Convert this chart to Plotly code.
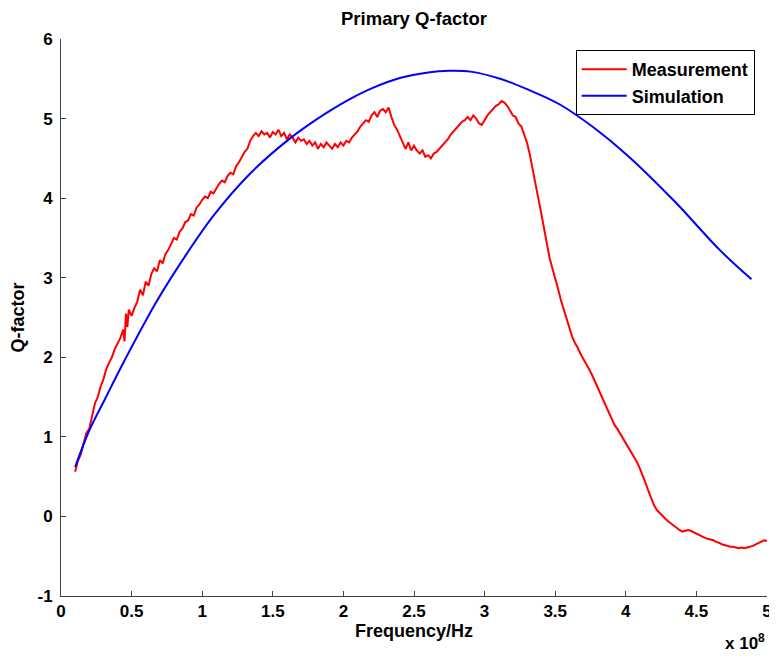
import plotly.graph_objects as go

# Frequency in units of 1e8 Hz
meas_freq = [0.10,0.12,0.14,0.16,0.18,0.20,0.22,0.24,0.26,0.28,0.30,0.32,0.34,0.36,0.38,0.40,0.42,0.44,0.45,0.46,0.47,0.48,0.50,0.52,0.54,0.56,0.58,0.60,0.62,0.64,0.66,0.68,0.70,0.72,0.74,0.76,0.78,0.80,0.82,0.84,0.86,0.88,0.90,0.92,0.94,0.96,0.98,1.00,1.02,1.04,1.06,1.08,1.10,1.12,1.14,1.16,1.18,1.20,1.22,1.24,1.26,1.28,1.30,1.32,1.34,1.36,1.38,1.40,1.42,1.44,1.46,1.48,1.50,1.52,1.54,1.56,1.58,1.60,1.62,1.64,1.66,1.68,1.70,1.72,1.74,1.76,1.78,1.80,1.82,1.84,1.86,1.88,1.90,1.92,1.94,1.96,1.98,2.00,2.02,2.04,2.06,2.08,2.10,2.12,2.14,2.16,2.18,2.20,2.22,2.24,2.26,2.28,2.30,2.32,2.34,2.36,2.38,2.40,2.42,2.44,2.46,2.48,2.50,2.52,2.54,2.56,2.58,2.60,2.62,2.64,2.66,2.68,2.70,2.72,2.74,2.76,2.78,2.80,2.82,2.84,2.86,2.88,2.90,2.92,2.94,2.96,2.98,3.00,3.02,3.04,3.06,3.08,3.10,3.12,3.14,3.16,3.18,3.20,3.22,3.24,3.26,3.28,3.30,3.32,3.34,3.36,3.38,3.40,3.42,3.44,3.46,3.48,3.50,3.52,3.54,3.56,3.58,3.60,3.62,3.64,3.66,3.68,3.70,3.72,3.74,3.76,3.78,3.80,3.82,3.84,3.86,3.88,3.90,3.92,3.94,3.96,3.98,4.00,4.02,4.04,4.06,4.08,4.10,4.12,4.14,4.16,4.18,4.20,4.22,4.24,4.26,4.28,4.30,4.32,4.34,4.36,4.38,4.40,4.42,4.44,4.46,4.48,4.50,4.52,4.54,4.56,4.58,4.60,4.62,4.64,4.66,4.68,4.70,4.72,4.74,4.76,4.78,4.80,4.82,4.84,4.86,4.88,4.90,4.92,4.94,4.96,4.98,5.00]
meas_q = [0.56,0.70,0.78,0.93,1.05,1.10,1.25,1.42,1.50,1.63,1.72,1.85,1.93,2.00,2.10,2.18,2.24,2.35,2.20,2.55,2.38,2.60,2.52,2.62,2.70,2.85,2.78,2.95,2.90,3.05,3.12,3.08,3.22,3.18,3.30,3.35,3.42,3.50,3.48,3.58,3.62,3.70,3.72,3.80,3.78,3.88,3.92,3.98,4.02,4.00,4.08,4.06,4.12,4.18,4.22,4.20,4.28,4.32,4.30,4.40,4.45,4.52,4.58,4.62,4.72,4.78,4.82,4.78,4.84,4.80,4.82,4.76,4.83,4.80,4.86,4.78,4.82,4.74,4.80,4.76,4.70,4.76,4.72,4.74,4.68,4.72,4.66,4.70,4.62,4.68,4.64,4.70,4.66,4.62,4.68,4.64,4.70,4.66,4.72,4.70,4.76,4.80,4.84,4.90,4.94,4.98,4.96,5.04,5.08,5.02,5.10,5.12,5.08,5.14,5.02,4.92,4.86,4.78,4.70,4.62,4.70,4.60,4.66,4.60,4.56,4.60,4.52,4.54,4.50,4.56,4.58,4.62,4.66,4.70,4.74,4.80,4.84,4.88,4.92,4.96,4.98,5.02,4.98,5.04,5.00,4.94,4.92,4.98,5.04,5.08,5.12,5.16,5.18,5.22,5.20,5.16,5.10,5.04,5.02,4.94,4.90,4.80,4.70,4.55,4.38,4.20,4.00,3.82,3.62,3.42,3.25,3.12,3.00,2.86,2.72,2.60,2.48,2.36,2.26,2.18,2.12,2.04,1.98,1.92,1.85,1.78,1.70,1.62,1.54,1.45,1.38,1.30,1.22,1.15,1.10,1.04,0.98,0.92,0.86,0.80,0.74,0.68,0.60,0.52,0.42,0.32,0.22,0.14,0.08,0.04,0.00,-0.03,-0.06,-0.09,-0.12,-0.15,-0.17,-0.19,-0.18,-0.17,-0.18,-0.20,-0.22,-0.24,-0.26,-0.27,-0.28,-0.29,-0.30,-0.32,-0.33,-0.35,-0.36,-0.37,-0.38,-0.38,-0.39,-0.40,-0.39,-0.40,-0.39,-0.38,-0.37,-0.35,-0.33,-0.31,-0.30,-0.31]

sim_freq = [0.10,0.20,0.31,0.45,0.68,0.89,1.08,1.34,1.60,1.81,2.02,2.20,2.40,2.60,2.75,2.90,3.11,3.30,3.53,3.77,4.01,4.34,4.67,4.89]
sim_q = [0.62,1.08,1.47,1.96,2.71,3.30,3.78,4.31,4.72,4.99,5.22,5.38,5.51,5.58,5.60,5.59,5.50,5.37,5.18,4.89,4.54,3.97,3.34,2.98]

x_ticks = [0, 0.5, 1, 1.5, 2, 2.5, 3, 3.5, 4, 4.5, 5]
x_tick_labels = ["0", "0.5", "1", "1.5", "2", "2.5", "3", "3.5", "4", "4.5", "5"]
y_ticks = [-1, 0, 1, 2, 3, 4, 5, 6]
y_tick_labels = ["-1", "0", "1", "2", "3", "4", "5", "6"]

FONT = "Liberation Sans, Arial, sans-serif"
TICK = dict(family=FONT, size=17, color="black", weight="bold")
LABEL = dict(family=FONT, size=18, color="black", weight="bold")
TITLE = dict(family=FONT, size=18.5, color="black", weight="bold")

# page body has an 8px margin, so the figure is sized to the remaining window
W, H = 769, 648

fig = go.Figure()
fig.add_trace(go.Scatter(x=meas_freq, y=meas_q, mode="lines", name="Measurement",
                         line=dict(color="#ff0000", width=2)))
fig.add_trace(go.Scatter(x=sim_freq, y=sim_q, mode="lines", name="Simulation",
                         line=dict(color="#0000ff", width=2, shape="spline")))

fig.update_layout(
    width=W, height=H,
    paper_bgcolor="white", plot_bgcolor="white",
    margin=dict(l=53, r=10, t=31, b=60, autoexpand=False),
    font=TICK,
    title=dict(text="Primary Q-factor", x=406 / W, xanchor="center", xref="container",
               y=1 - 11 / H, yanchor="middle", yref="container", font=TITLE),
    xaxis=dict(range=[0, 5], tickvals=x_ticks, ticktext=x_tick_labels, automargin=False,
               showline=True, linecolor="#404040", linewidth=1, mirror=False,
               ticks="inside", ticklen=5, tickcolor="#404040", showgrid=False, zeroline=False,
               title=dict(text="Frequency/Hz", standoff=2, font=LABEL),
               tickfont=TICK),
    yaxis=dict(range=[-1, 6], tickvals=y_ticks, ticktext=y_tick_labels, automargin=False,
               showline=True, linecolor="#404040", linewidth=1, mirror=False,
               ticks="inside", ticklen=5, tickcolor="#404040", showgrid=False, zeroline=False,
               ticklabelstandoff=4,
               title=dict(text="Q-factor", standoff=12, font=LABEL),
               tickfont=TICK),
    legend=dict(x=0.729, y=0.98, xanchor="left", yanchor="top",
                bordercolor="black", borderwidth=1, bgcolor="white",
                font=LABEL, itemwidth=45),
    showlegend=True,
)
fig.add_annotation(text="x 10<sup>8</sup>", xref="paper", yref="paper", x=1.0,
                   y=-0.106, xanchor="right", yanchor="bottom",
                   showarrow=False, font=TICK)

fig.write_html("out.html")
